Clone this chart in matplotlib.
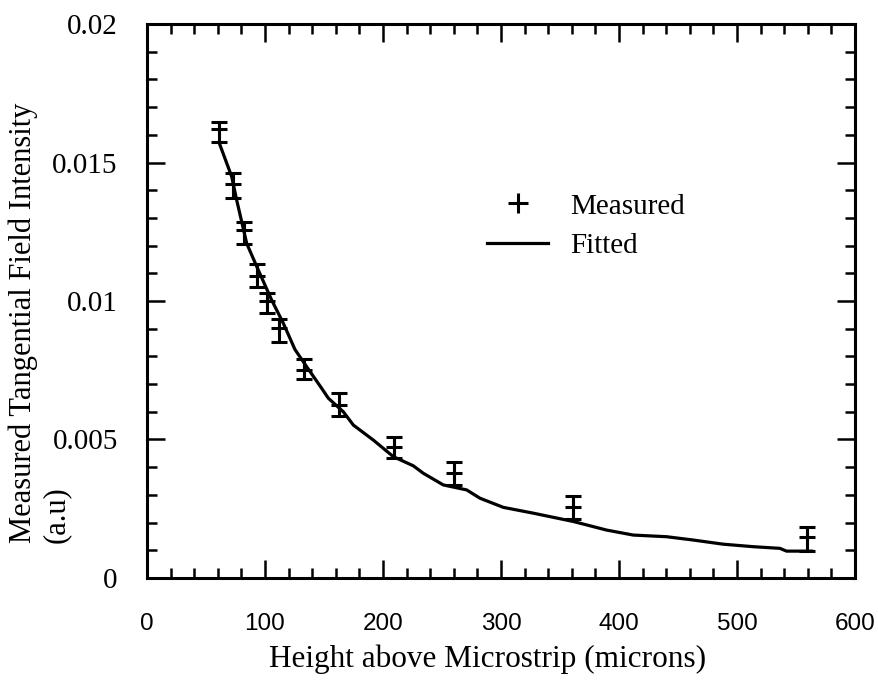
import matplotlib
matplotlib.use("Agg")
import matplotlib.pyplot as plt
from matplotlib.lines import Line2D
from matplotlib.ticker import MultipleLocator

plt.rcParams['font.family'] = ['Liberation Serif', 'DejaVu Serif']

# measured points: height (microns), intensity, lower / upper error
height = [61, 72.6, 82.5, 93.5, 101.4, 112, 133.3, 163, 209.3, 260.4, 361.3, 559.6]
intensity = [0.0162, 0.01422, 0.01256, 0.01091, 0.00999, 0.00901,
             0.00751, 0.00625, 0.00472, 0.0038, 0.00255, 0.00149]
err_lo = [0.00045, 0.0005, 0.0005, 0.00042, 0.00043, 0.00048,
          0.00034, 0.0004, 0.00038, 0.00044, 0.00043, 0.00052]
err_hi = [0.00027, 0.00041, 0.0003, 0.00041, 0.00029, 0.00033,
          0.00039, 0.00044, 0.00038, 0.0004, 0.00041, 0.00034]

# fitted curve
fit_x = [61.9, 71.8, 76, 84.5, 94.3, 105.6, 115.5, 125.4, 135.3, 148, 153.7,
         166.4, 174.9, 191.8, 208.8, 225.7, 234.2, 251.1, 270.9, 282.2, 302,
         327.4, 361.3, 389.5, 412.1, 440.4, 463, 488.4, 513.8, 536.4, 542, 563.3]
fit_y = [0.01563, 0.01449, 0.01365, 0.01208, 0.01112, 0.01004, 0.0092, 0.00825,
         0.00763, 0.00685, 0.00649, 0.006, 0.00552, 0.00498, 0.00438, 0.00405,
         0.00378, 0.00336, 0.00318, 0.00288, 0.00255, 0.00234, 0.00204, 0.00173,
         0.00155, 0.00149, 0.00137, 0.00122, 0.00113, 0.00107, 0.00097, 0.00097]

xticks = [0, 100, 200, 300, 400, 500, 600]
yticks = [0, 0.005, 0.01, 0.015, 0.02]
ytick_labels = ['0', '0.005', '0.01', '0.015', '0.02']

fig = plt.figure(figsize=(8.79, 6.82), dpi=100)
ax = fig.add_axes([0.1672, 0.1525, 0.8055, 0.8123])

ax.plot(fit_x, fit_y, color='black', lw=2.3)
ax.errorbar(height, intensity, yerr=[err_lo, err_hi], fmt='+', color='black',
            ms=12, mew=2.2, elinewidth=2.2, capsize=5.5, capthick=2.2)

ax.set_xlim(0, 600)
ax.set_ylim(0, 0.02)
ax.set_xticks(xticks)
ax.xaxis.set_minor_locator(MultipleLocator(20))
ax.set_yticks(yticks)
ax.set_yticklabels(ytick_labels)
ax.yaxis.set_minor_locator(MultipleLocator(0.001))

ax.tick_params(which='both', direction='in', top=True, right=True,
               width=1.8, color='black')
ax.tick_params(which='major', length=13)
ax.tick_params(which='minor', length=7)
ax.tick_params(axis='y', pad=21, labelsize=21)
ax.tick_params(axis='x', pad=25, labelsize=17.5)
for lab in ax.get_xticklabels():
    lab.set_family(['Liberation Sans', 'DejaVu Sans'])
for s in ax.spines.values():
    s.set_linewidth(2.2)

# axis titles
fig.text(0.555, 0.034, 'Height above Microstrip (microns)', fontsize=22.5,
         ha='center', va='center')
fig.text(0.026, 0.204, 'Measured Tangential Field Intensity', rotation=90,
         fontsize=22, ha='center', va='bottom')
fig.text(0.064, 0.204, '(a.u)', rotation=90, fontsize=22,
         ha='center', va='bottom')

handles = [Line2D([], [], color='black', marker='+', ls='none', ms=14, mew=2.2),
           Line2D([], [], color='black', lw=2.3)]
ax.legend(handles, ['Measured', 'Fitted'], frameon=False, fontsize=21,
          loc='upper left', bbox_to_anchor=(0.4435, 0.742), handlelength=2.1,
          handletextpad=0.75, labelspacing=0.45)

fig.savefig('out.png', dpi=100)
